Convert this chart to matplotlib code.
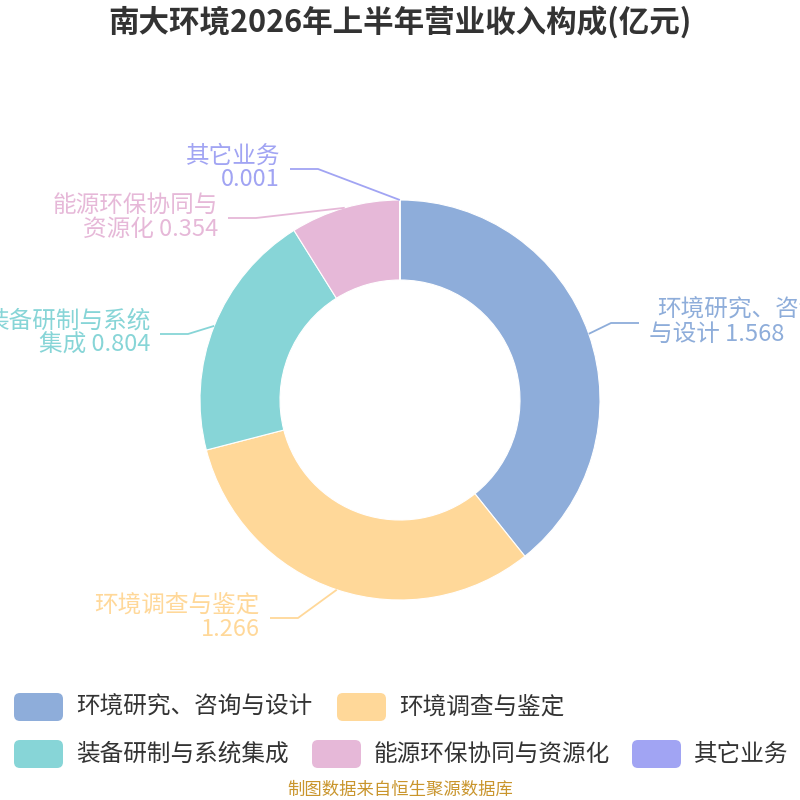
import numpy as np
import matplotlib.pyplot as plt
from matplotlib.patches import FancyBboxPatch

plt.rcParams['font.family'] = ['Noto Sans CJK SC', 'DejaVu Sans']

# data
categories = ['环境研究、咨询与设计', '环境调查与鉴定', '装备研制与系统集成', '能源环保协同与资源化', '其它业务']
values = [1.568, 1.266, 0.804, 0.354, 0.001]
label_lines = [
    ('环境研究、咨询', '与设计 1.568'),
    ('环境调查与鉴定', '1.266'),
    ('装备研制与系统', '集成 0.804'),
    ('能源环保协同与', '资源化 0.354'),
    ('其它业务', '0.001'),
]
colors = ['#8EADDA', '#FFD899', '#87D5D7', '#E6B8D8', '#A1A4F3']

title = '南大环境2026年上半年营业收入构成(亿元)'
source = '制图数据来自恒生聚源数据库'

# layout (pixel coords, y down)
cx, cy, r_out, r_in = 400, 400, 200, 120
# elbow point of each leader line, side of label
elbows = [(611, 323), (298, 618), (188, 334), (256, 218), (318, 169)]
sides = [1, -1, -1, -1, -1]
leg_rows = [[0, 1], [2, 3, 4]]
leg_x = [[14, 337], [14, 312, 632]]
leg_y = [707, 754]

fig = plt.figure(figsize=(8, 8), dpi=100)
ax = fig.add_axes([0, 0, 1, 1])

ax.pie(values, colors=colors, center=(cx, cy), radius=r_out,
       startangle=-90, counterclock=True,
       wedgeprops=dict(width=r_out - r_in, edgecolor='white', linewidth=0.8))
ax.set_xlim(0, 800)
ax.set_ylim(800, 0)
ax.set_aspect('equal')
ax.axis('off')

# leader lines and labels
total = sum(values)
cum = np.cumsum([0] + values)
for i, v in enumerate(values):
    a = 2 * np.pi * (cum[i] + v / 2) / total
    sx = cx + r_out * np.sin(a)
    sy = cy - r_out * np.cos(a)
    ex, ey = elbows[i]
    end_x = ex + sides[i] * 28
    ax.plot([sx, ex, end_x], [sy, ey, ey], color=colors[i], lw=1.3,
            solid_capstyle='butt')
    tx = end_x + sides[i] * 10
    ha = 'left' if sides[i] > 0 else 'right'
    l1, l2 = label_lines[i]
    # right-side first line sits a little further in
    shift = 8 if sides[i] > 0 else 0
    ax.text(tx + shift, ey - 13, l1, color=colors[i], fontsize=17, ha=ha, va='center')
    ax.text(tx, ey + 11, l2, color=colors[i], fontsize=17, ha=ha, va='center')

# legend
for row, ys in zip(range(len(leg_rows)), leg_y):
    for idx, x0 in zip(leg_rows[row], leg_x[row]):
        box = FancyBboxPatch((x0 + 4, ys - 10), 41, 20,
                             boxstyle='round,pad=4,rounding_size=6',
                             facecolor=colors[idx], edgecolor='none')
        ax.add_patch(box)
        ax.text(x0 + 62, ys, categories[idx], color='#333333', fontsize=17,
                ha='left', va='center')

fig.text(0.5, 1 - 22 / 800, title, ha='center', va='center', fontsize=22,
         fontweight='bold', color='#333333')
fig.text(0.5, 1 - 790 / 800, source, ha='center', va='center', fontsize=12.5,
         color='#C9952C')

fig.savefig('out.png', dpi=100)
